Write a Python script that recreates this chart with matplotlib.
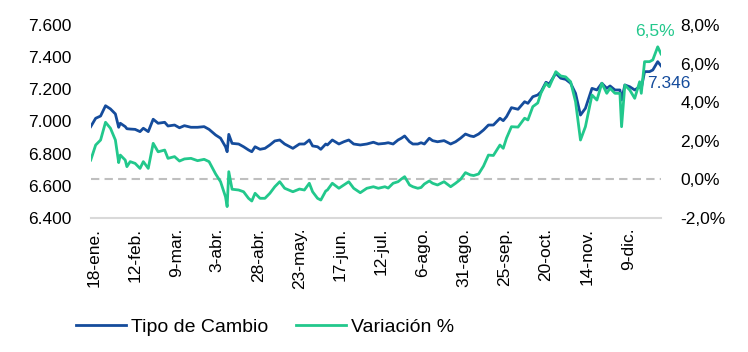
import numpy as np
import pandas as pd
import matplotlib
matplotlib.use("Agg")
import matplotlib.pyplot as plt

plt.rcParams['font.family'] = ['Liberation Sans', 'DejaVu Sans']

# dia del anio (2019) de cada observacion
dia = [16, 19, 22, 25, 28, 31, 33, 34, 37, 38, 40, 43, 46, 48, 51, 54, 57, 61, 63, 67,
       70, 73, 77, 81, 85, 88, 92, 95, 98, 99, 100, 102, 106, 109, 112, 114, 116, 119, 122, 125,
       128, 131, 134, 139, 143, 146, 149, 151, 154, 156, 159, 160, 163, 167, 170, 173, 176, 180, 184, 188,
       191, 195, 197, 200, 203, 205, 207, 210, 212, 215, 217, 219, 222, 224, 227, 231, 235, 238, 241, 244,
       247, 249, 252, 255, 258, 261, 265, 267, 269, 272, 276, 280, 282, 285, 288, 290, 293, 295, 299, 302,
       305, 308, 311, 314, 317, 321, 324, 327, 330, 332, 335, 338, 339, 341, 344, 347, 350, 351, 353, 356,
       358, 361, 363]

tipo_cambio = [6.968, 7.020, 7.034, 7.098, 7.078, 7.047, 6.964, 6.989, 6.968, 6.955, 6.953, 6.951, 6.937, 6.958, 6.937, 7.014, 6.989, 6.995, 6.972, 6.978,
               6.961, 6.974, 6.964, 6.964, 6.968, 6.951, 6.916, 6.896, 6.843, 6.812, 6.920, 6.864, 6.860, 6.843, 6.823, 6.812, 6.843, 6.827, 6.833, 6.854,
               6.879, 6.885, 6.860, 6.833, 6.860, 6.860, 6.885, 6.848, 6.843, 6.827, 6.860, 6.854, 6.885, 6.860, 6.874, 6.885, 6.860, 6.854, 6.860, 6.871,
               6.860, 6.864, 6.868, 6.860, 6.885, 6.896, 6.910, 6.874, 6.860, 6.860, 6.868, 6.860, 6.896, 6.881, 6.874, 6.881, 6.860, 6.874, 6.896, 6.922,
               6.910, 6.906, 6.922, 6.947, 6.978, 6.978, 7.020, 7.005, 7.030, 7.086, 7.076, 7.123, 7.113, 7.154, 7.165, 7.185, 7.244, 7.233, 7.300, 7.269,
               7.262, 7.238, 7.175, 7.040, 7.082, 7.206, 7.196, 7.238, 7.206, 7.221, 7.196, 7.196, 7.134, 7.227, 7.216, 7.196, 7.216, 7.206, 7.310, 7.310,
               7.320, 7.372, 7.346]

variacion = [1.00, 1.78, 2.04, 2.96, 2.65, 2.04, 0.87, 1.26, 1.00, 0.66, 0.92, 0.83, 0.57, 0.92, 0.57, 1.87, 1.43, 1.52, 1.09, 1.18,
             0.95, 1.06, 1.09, 0.97, 1.04, 0.92, 0.28, -0.12, -0.90, -1.41, 0.40, -0.51, -0.55, -0.64, -0.98, -1.12, -0.72, -0.98, -0.98, -0.72,
             -0.38, -0.12, -0.46, -0.64, -0.50, -0.55, -0.20, -0.64, -0.98, -1.07, -0.60, -0.55, -0.20, -0.46, -0.29, -0.12, -0.46, -0.69, -0.46, -0.38,
             -0.46, -0.38, -0.45, -0.20, -0.12, 0.02, 0.14, -0.29, -0.38, -0.46, -0.42, -0.24, -0.08, -0.20, -0.29, -0.12, -0.38, -0.20, 0.00, 0.35,
             0.23, 0.20, 0.28, 0.69, 1.26, 1.24, 1.78, 1.61, 2.14, 2.73, 2.71, 3.17, 3.08, 3.77, 3.96, 4.48, 4.98, 4.80, 5.58, 5.36,
             5.31, 5.06, 4.03, 2.04, 2.73, 4.37, 4.11, 4.98, 4.46, 4.72, 4.46, 4.46, 2.73, 4.89, 4.63, 4.20, 5.06, 4.46, 6.10, 6.10,
             6.19, 6.87, 6.50]

etiquetas_x = ['18-ene.', '12-feb.', '9-mar.', '3-abr.', '28-abr.', '23-may.', '17-jun.',
               '12-jul.', '6-ago.', '31-ago.', '25-sep.', '20-oct.', '14-nov.', '9-dic.']
ticks_izq = [6.4, 6.6, 6.8, 7.0, 7.2, 7.4, 7.6]
ticks_der = [-2, 0, 2, 4, 6, 8]

AZUL = '#154c9c'
VERDE = '#22c88c'

base = pd.Timestamp('2019-01-01')
fechas = base + pd.to_timedelta(np.array(dia) - 1, unit='D')
fechas_ticks = pd.date_range('2019-01-18', periods=len(etiquetas_x), freq='25D')

fig = plt.figure(figsize=(7.48, 3.52), dpi=100)
ax = fig.add_axes([0.1213, 0.3807, 0.7624, 0.5483])
ax2 = ax.twinx()

l1, = ax.plot(fechas, tipo_cambio, color=AZUL, lw=2.0, label='Tipo de Cambio')
l2, = ax2.plot(fechas, variacion, color=VERDE, lw=2.0, label='Variación %')
ax2.axhline(0, color='#bfbfbf', lw=1.5, ls=(0, (4, 2.5)), zorder=0)

ax.set_ylim(6.4, 7.6)
ax2.set_ylim(-2, 8)
ax.set_xlim(fechas[0], fechas[-1])

ax.set_yticks(ticks_izq)
ax.set_yticklabels([f'{v:.3f}' for v in ticks_izq])
ax2.set_yticks(ticks_der)
ax2.set_yticklabels([f'{v:.1f}%'.replace('.', ',') for v in ticks_der])
ax.set_xticks(fechas_ticks)
ax.set_xticklabels(etiquetas_x, rotation=90)

ax.tick_params(axis='y', length=0, pad=14, labelsize=12.5)
ax2.tick_params(axis='y', length=0, pad=14, labelsize=12.5)
ax.tick_params(axis='x', length=0, pad=7, labelsize=12.5)

for s in ['top', 'left', 'right']:
    ax.spines[s].set_visible(False)
ax.spines['bottom'].set_color('#d9d9d9')
ax.spines['bottom'].set_linewidth(1.5)
for s in ax2.spines.values():
    s.set_visible(False)

ax2.annotate('6,5%', (fechas[-1], variacion[-1]), xytext=(-6, 22), textcoords='offset pixels',
             ha='center', va='center', color=VERDE, fontsize=12.5)
ax.annotate(f'{tipo_cambio[-1]:.3f}', (fechas[-1], tipo_cambio[-1]), xytext=(8, -18),
            textcoords='offset pixels', ha='center', va='center', color=AZUL, fontsize=12.5)

fig.legend(handles=[l1, l2], loc='center', bbox_to_anchor=(265 / 748, 0.071), ncol=2,
           frameon=False, fontsize=14, handlelength=2.6, handletextpad=0.25, columnspacing=1.4)

fig.savefig('out.png', dpi=100)
